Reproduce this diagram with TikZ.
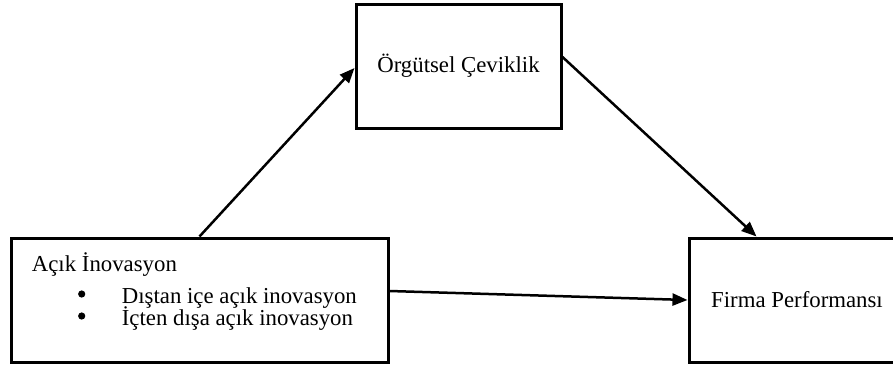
\documentclass[tikz,border=0pt]{standalone}
\usepackage{fontspec}
\setmainfont{Liberation Serif}
\usetikzlibrary{arrows.meta}
\begin{document}
\begin{tikzpicture}[x=1pt,y=-1pt,
  box/.style={draw=black,line width=3pt,inner sep=0pt,minimum width=#1,minimum height=124pt,font=\fontsize{22.8}{24}\selectfont},
  txt/.style={anchor=base west,inner sep=0pt,font=\fontsize{22.8}{24}\selectfont},
  arr/.style={line width=2.5pt,-{Triangle[length=15pt,width=12pt]}}]
\useasboundingbox (0,0) rectangle (893,367);
\node[box=205pt] (tb) at (458.5,66) {Örgütsel Çeviklik};
\node[box=377pt] (lb) at (199.5,300) {};
\node[box=216pt] (rb) at (797,300) {Firma Performansı};
\node[txt] (t1) at (31.7,271.7) {Açık İnovasyon};
\node[txt] (t2) at (121.7,303.3) {Dıştan içe açık inovasyon};
\node[txt] (t3) at (121.7,325) {İçten dışa açık inovasyon};
\fill (81.7,294) circle (3.6pt) coordinate (b1);
\fill (81.7,316) circle (3.6pt) coordinate (b2);
\draw[arr] (lb.north) -- ([yshift=-2pt]tb.west);
\draw[arr] ([yshift=9pt]tb.east) -- ([xshift=69pt]rb.north west);
\draw[arr] ([yshift=9pt]lb.east) -- (rb.west);
\end{tikzpicture}
\end{document}
